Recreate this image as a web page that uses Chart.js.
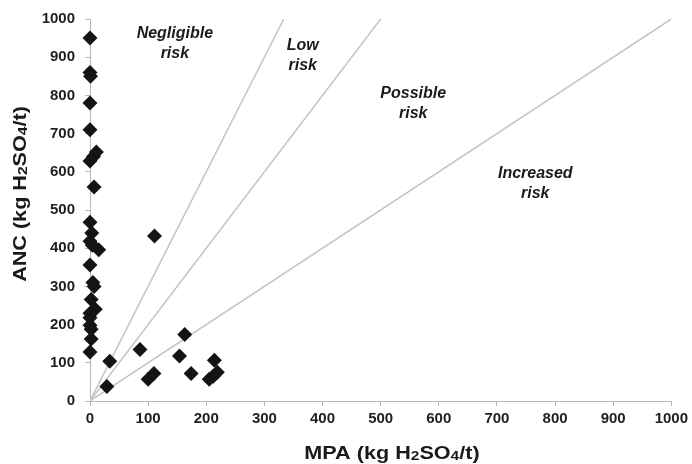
<!DOCTYPE html>
<html>
<head>
<meta charset="utf-8">
<script src="https://cdn.jsdelivr.net/npm/chart.js@4/dist/chart.umd.min.js"></script>
<style>
  html, body { margin: 0; padding: 0; background: #fff; }
  #wrap { width: 692px; height: 464px; position: relative; }
</style>
</head>
<body>
<div id="wrap"><canvas id="c"></canvas></div>
<script>
// ---- Data ----
const mpa = [0, 0, 1, 0, 0, 0, 6, 11, 7, 0, 3, 0, 4, 15, 111, 0, 5, 7, 2, 9, 0, 0, 0, 2, 2, 0, 34, 29, 86, 100, 110, 163, 154, 174, 214, 205, 219, 212];
const anc = [950, 860, 850, 780, 710, 628, 640, 652, 560, 468, 440, 418, 408, 396, 432, 356, 310, 300, 266, 240, 230, 218, 198, 188, 162, 128, 104, 38, 135, 57, 72, 174, 118, 72, 107, 57, 75, 65];
const riskRatios = [3, 2, 1];          // ANC/MPA boundary lines
const zoneNames = [["Negligible", "risk"], ["Low", "risk"], ["Possible", "risk"], ["Increased", "risk"]];
// axis titles as [text, isSubscript] parts
const xTitleParts = [["MPA (kg H", false], ["2", true], ["SO", false], ["4", true], ["/t)", false]];
const yTitleParts = [["ANC (kg H", false], ["2", true], ["SO", false], ["4", true], ["/t)", false]];
const axisMax = 1000;
const tickStep = 100;

// label anchor positions (data units)
const zoneAnchors = [[146, 935], [366, 903], [556, 779], [766, 569]];

const points = mpa.map((x, i) => ({ x: x, y: anc[i] }));
const lineSets = riskRatios.map(r => ({
  type: 'scatter',
  data: [{ x: 0, y: 0 }, { x: axisMax / r, y: axisMax }],
  showLine: true,
  borderColor: '#c4c4c4',
  borderWidth: 1.5,
  pointRadius: 0,
  order: 2
}));

const FAM = '"Liberation Sans", Arial, sans-serif';
const TITLE_SIZE = 18, SUB_SIZE = 13, STRETCH = 1.2;

function drawParts(ctx, parts, cx, cy) {
  const fontFor = sub => 'bold ' + (sub ? SUB_SIZE : TITLE_SIZE) + 'px ' + FAM;
  let total = 0;
  parts.forEach(([t, sub]) => { ctx.font = fontFor(sub); total += ctx.measureText(t).width; });
  ctx.save();
  ctx.translate(cx, cy);
  ctx.scale(STRETCH, 1);
  let x = -total / 2;
  ctx.textAlign = 'left';
  ctx.textBaseline = 'alphabetic';
  const base = TITLE_SIZE * 0.36;
  parts.forEach(([t, sub]) => {
    ctx.font = fontFor(sub);
    ctx.fillText(t, x, base + (sub ? 1 : 0));
    x += ctx.measureText(t).width;
  });
  ctx.restore();
}

const zoneLabels = {
  id: 'zoneLabels',
  afterDatasetsDraw(chart) {
    const { ctx, scales, chartArea } = chart;
    ctx.save();
    ctx.font = 'italic bold 16px ' + FAM;
    ctx.fillStyle = '#1a1a1a';
    ctx.textAlign = 'center';
    ctx.textBaseline = 'middle';
    zoneNames.forEach((lines, i) => {
      const px = scales.x.getPixelForValue(zoneAnchors[i][0]);
      const py = scales.y.getPixelForValue(zoneAnchors[i][1]);
      lines.forEach((t, j) => ctx.fillText(t, px, py - 10 + j * 20));
    });
    // axis titles
    drawParts(ctx, xTitleParts, 392, 453);
    ctx.translate(20, 194);
    ctx.rotate(-Math.PI / 2);
    drawParts(ctx, yTitleParts, 0, 0);
    ctx.restore();
  }
};

const tickFont = { family: FAM, size: 15, weight: 'bold' };

new Chart(document.getElementById('c'), {
  type: 'scatter',
  data: {
    datasets: [{
      data: points,
      pointStyle: 'rectRot',
      pointRadius: 7.5,
      pointHoverRadius: 7.5,
      backgroundColor: '#141414',
      borderColor: '#141414',
      borderWidth: 0,
      clip: false,
      order: 1
    }, ...lineSets]
  },
  options: {
    responsive: true,
    maintainAspectRatio: false,
    animation: false,
    layout: { padding: { top: 18, right: 18, left: 0, bottom: 0 } },
    plugins: { legend: { display: false }, tooltip: { enabled: false } },
    scales: {
      x: {
        type: 'linear', min: 0, max: axisMax,
        ticks: { stepSize: tickStep, color: '#1e1e1e', font: tickFont, padding: 4, maxRotation: 0, callback: v => String(v) },
        grid: { drawOnChartArea: false, drawTicks: true, tickLength: 5, color: '#b8b8b8' },
        border: { color: '#b8b8b8' },
        afterFit(s) { s.height = 63; }
      },
      y: {
        type: 'linear', min: 0, max: axisMax,
        ticks: { stepSize: tickStep, color: '#1e1e1e', font: tickFont, padding: 10, callback: v => String(v) },
        grid: { drawOnChartArea: false, drawTicks: true, tickLength: 5, color: '#b8b8b8' },
        border: { color: '#b8b8b8' },
        afterFit(s) { s.width = 90; }
      }
    }
  },
  plugins: [zoneLabels]
});
</script>
</body>
</html>
